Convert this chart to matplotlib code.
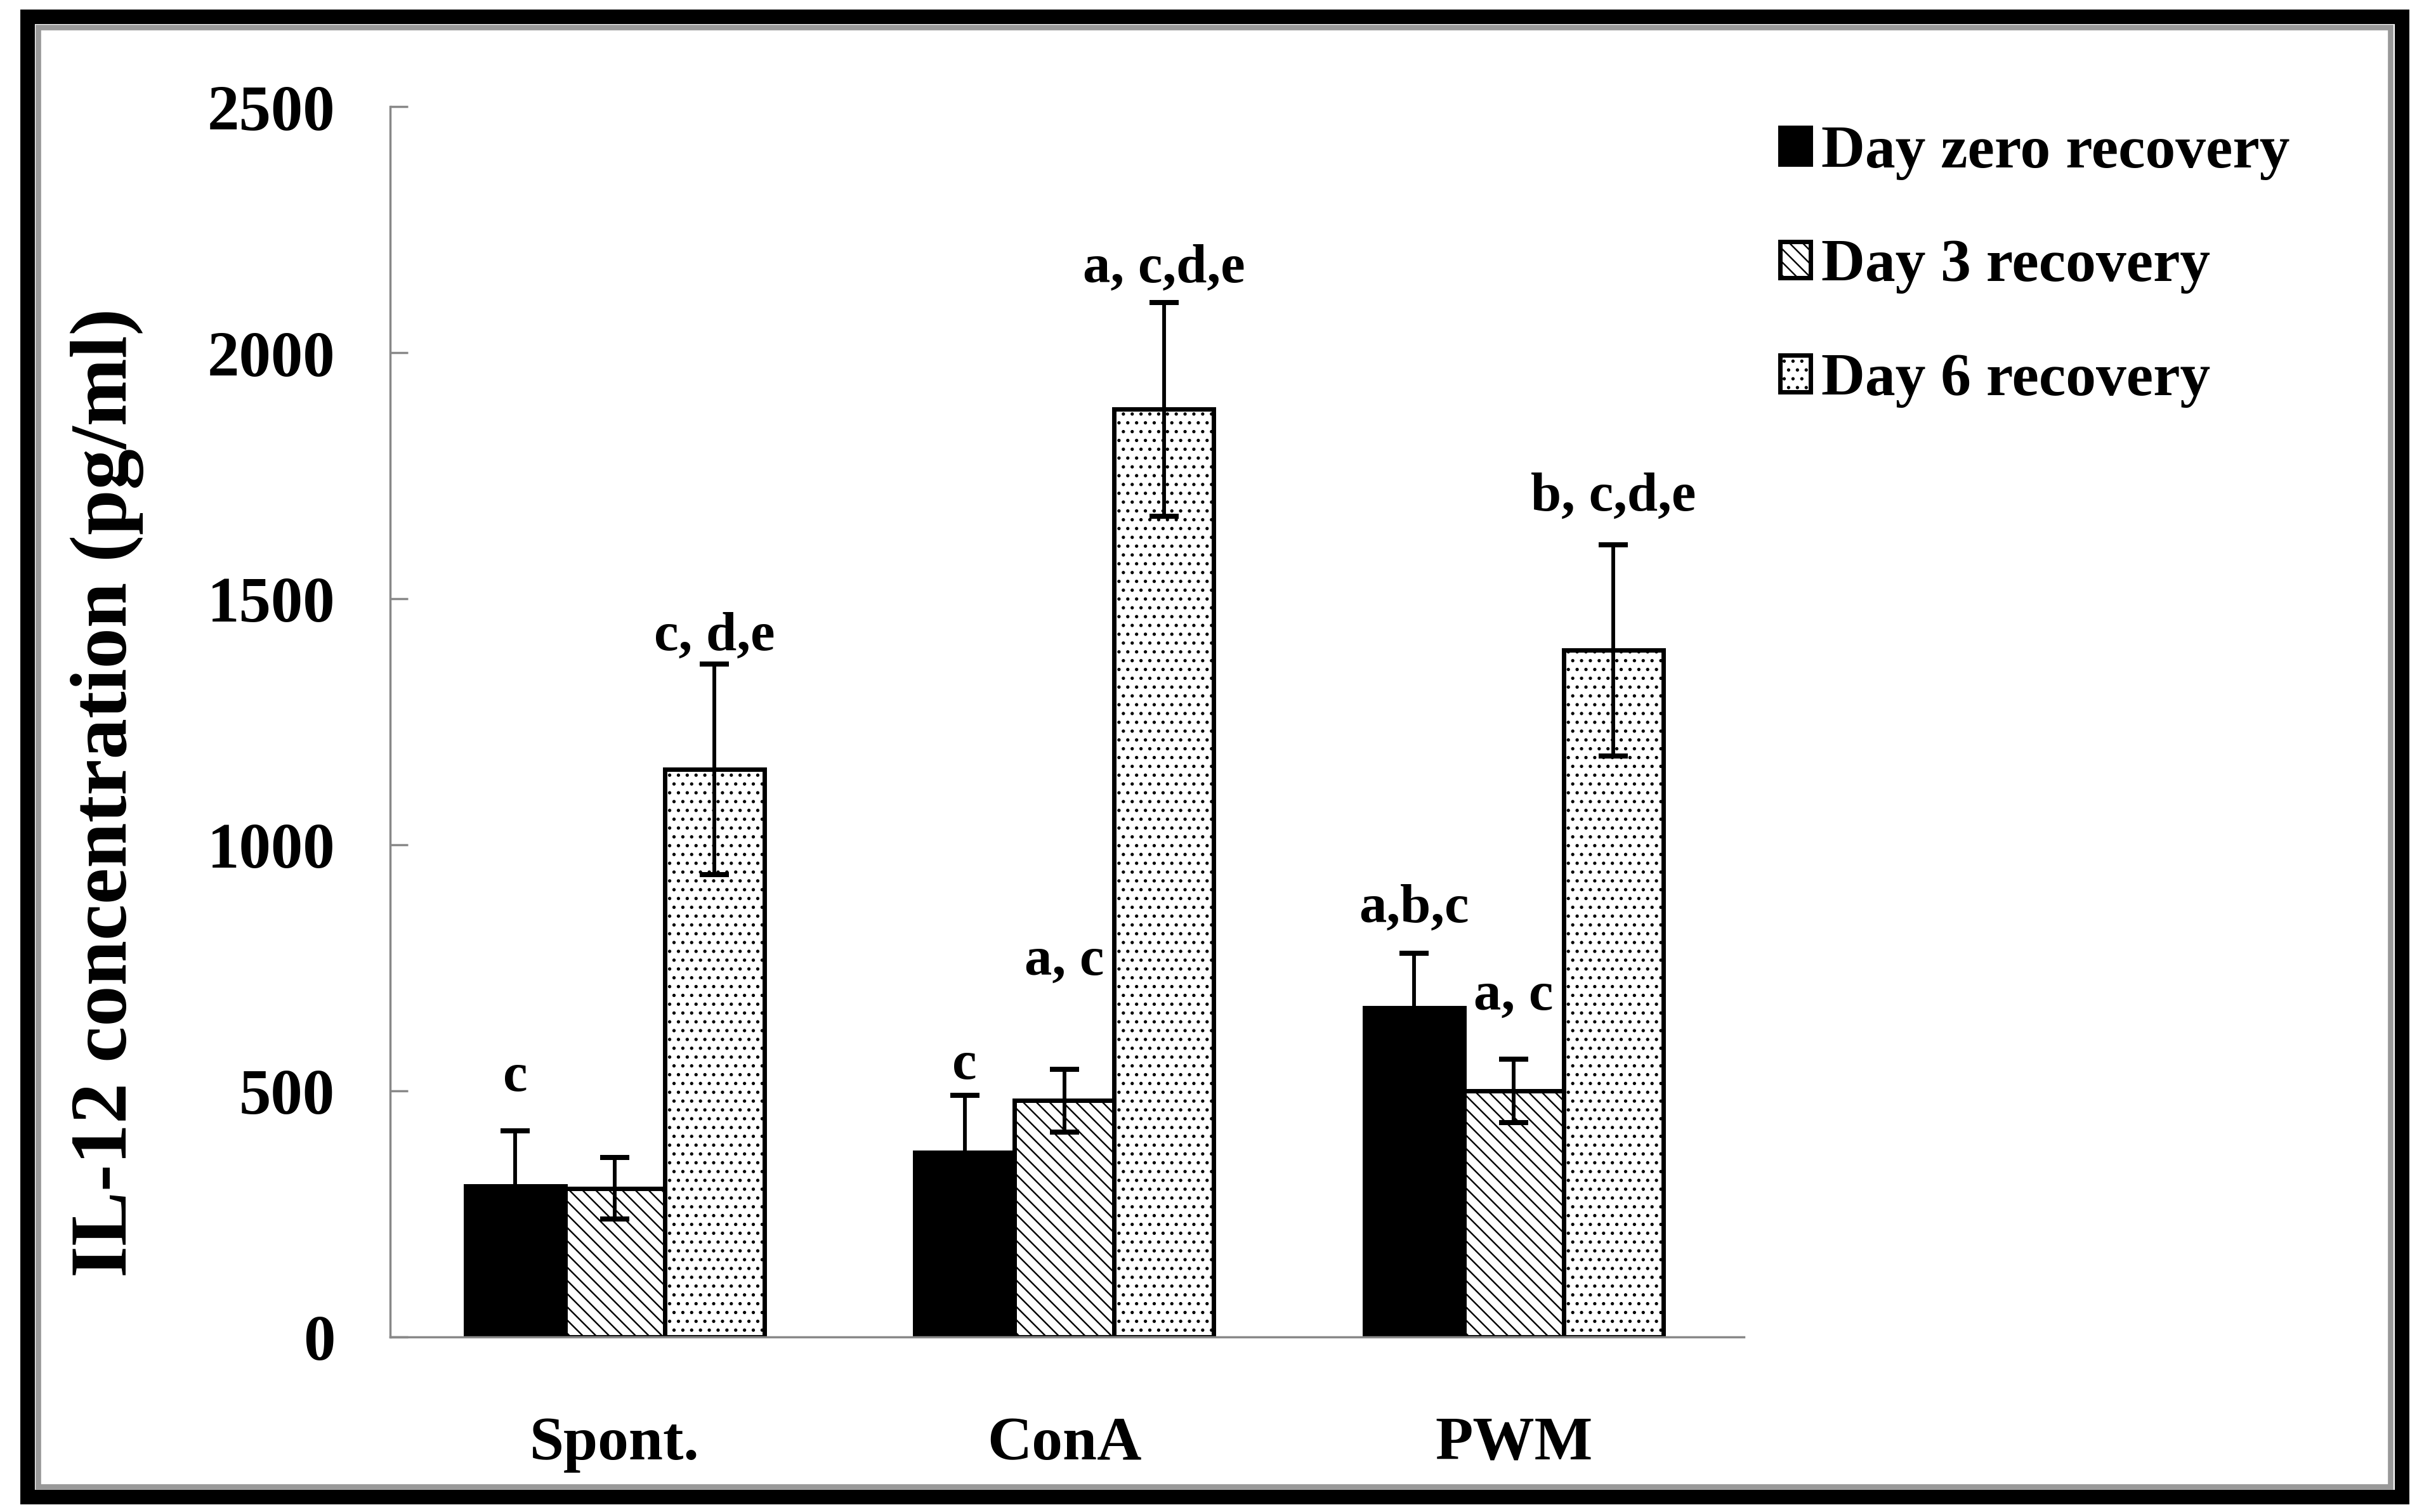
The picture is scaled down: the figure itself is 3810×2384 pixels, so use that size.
# IL-12 concentration bar chart with recovery days, redrawn in matplotlib

import matplotlib
matplotlib.use('Agg')
import matplotlib.pyplot as plt
from matplotlib.patches import Rectangle
import numpy as np

# Data
categories = ['Spont.', 'ConA', 'PWM']
series_names = ['Day zero recovery', 'Day 3 recovery', 'Day 6 recovery']
day0 = [307, 375, 669]
day0_err = [112, 116, 110]
day3 = [302, 480, 500]
day3_err = [63, 64, 65]
day6 = [1153, 1885, 1395]
day6_err = [214, 217, 215]
sig_day0 = ['c', 'c', 'a,b,c']
sig_day3 = ['', 'a, c', 'a, c']
sig_day6 = ['c, d,e', 'a, c,d,e', 'b, c,d,e']

# Where the significance letters sit (centre height, data units)
pos_day0 = [527, 551, 869]
pos_day3 = [0, 762, 692]
pos_day6 = [1422, 2170, 1706]

plt.rcParams['font.family'] = 'Liberation Serif'
plt.rcParams['font.weight'] = 'bold'
plt.rcParams['hatch.linewidth'] = 0.7
plt.rcParams['hatch.color'] = 'black'

fig = plt.figure(figsize=(15.24, 9.536), dpi=250)
ax = fig.add_axes([0.1614, 0.1158, 0.5601, 0.8137])

x = np.arange(len(categories))
w = 0.2216
styles = [dict(color='black', edgecolor='black', hatch=None),
          dict(color='white', edgecolor='black', hatch='\\' * 4),
          dict(color='white', edgecolor='black', hatch='...')]
values = [day0, day3, day6]
errors = [day0_err, day3_err, day6_err]
sigs = [sig_day0, sig_day3, sig_day6]
sig_pos = [pos_day0, pos_day3, pos_day6]

for i in range(3):
    xs = x + (i - 1) * w
    ax.bar(xs, values[i], w, label=series_names[i], linewidth=2,
           facecolor=styles[i]['color'], edgecolor=styles[i]['edgecolor'],
           hatch=styles[i]['hatch'], zorder=2)
    ax.errorbar(xs, values[i], yerr=errors[i], fmt='none', ecolor='black',
                elinewidth=1.7, capsize=6.5, capthick=2.3, zorder=3)
    for xx, s, yy in zip(xs, sigs[i], sig_pos[i]):
        if s:
            ax.text(xx, yy, s, ha='center', va='center', fontsize=25,
                    fontweight='bold')

ax.set_xlim(-0.5, 2.512)
ax.set_ylim(0, 2500)
ax.set_yticks([0, 500, 1000, 1500, 2000, 2500])
ax.set_xticks(x)
ax.set_xticklabels(categories, fontsize=28, fontweight='bold')
ax.tick_params(axis='x', length=0, pad=36)
ax.tick_params(axis='y', direction='in', length=8, width=1, color='#888888',
               labelsize=29, pad=25)
for lab in ax.get_yticklabels():
    lab.set_fontweight('bold')

for side in ['top', 'right']:
    ax.spines[side].set_visible(False)
for side in ['left', 'bottom']:
    ax.spines[side].set_color('#888888')
    ax.spines[side].set_linewidth(1)

fig.text(0.0442, 0.4757, 'IL-12 concentration (pg/ml)', rotation=90,
         ha='center', va='center', fontsize=37, fontweight='bold')

fig.legend(loc='upper left', bbox_to_anchor=(0.7365, 0.917), frameon=False,
           fontsize=27.5, handlelength=0.5, handleheight=0.55,
           handletextpad=0.18, labelspacing=0.98, borderpad=0,
           borderaxespad=0)

# Outer frame: thick black border with a thin grey line inside
W, H = 3810.0, 2384.0
fig.patches.append(Rectangle((42.5 / W, 1 - 2359.5 / H), (3785.5 - 42.5) / W,
                             (2359.5 - 25.5) / H, transform=fig.transFigure,
                             fill=False, edgecolor='black', linewidth=6.6))
fig.patches.append(Rectangle((60 / W, 1 - 2344 / H), (3768 - 60) / W,
                             (2344 - 43) / H, transform=fig.transFigure,
                             fill=False, edgecolor='#999999', linewidth=2.5))

fig.savefig('out.png', dpi=250)
